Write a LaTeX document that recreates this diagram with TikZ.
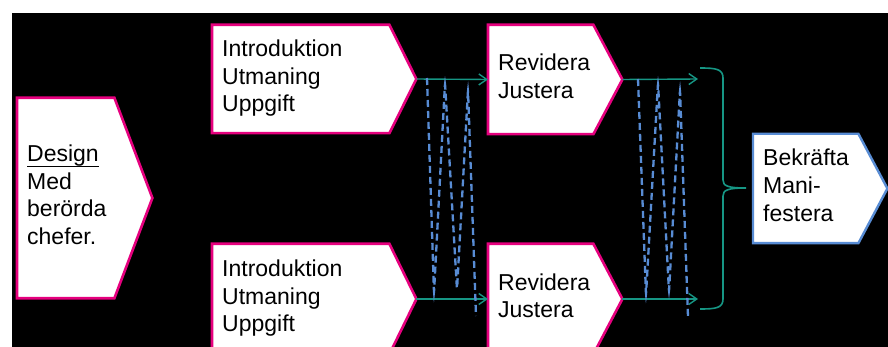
\documentclass[tikz,border=0pt]{standalone}
\usepackage{fontspec}
\setmainfont{Liberation Sans}
\usetikzlibrary{backgrounds,arrows.meta}

\definecolor{rosa}{RGB}{230,0,126}
\definecolor{gronbla}{RGB}{22,150,132}
\definecolor{ljusbla}{RGB}{88,140,212}

\newsavebox\ordbox
\newcommand\understruken[1]{\sbox\ordbox{#1}\rlap{\rule[-5.5pt]{\wd\ordbox}{1.4pt}}\usebox\ordbox}
\newcommand\stod{\rule[-6.6pt]{0pt}{21pt}}

\tikzset{
    txt/.style = {anchor = west, inner xsep = 10pt, inner ysep = 0pt, align = left,
        font = \fontsize{23}{27.6}\selectfont,
        execute at begin node = {\hyphenpenalty=10000\stod}, execute at end node = {\stod}},
    ram/.style = {draw = rosa, line width = 2.6pt, fill = white},
    blaram/.style = {draw = ljusbla, line width = 2.4pt, fill = white},
    pil/.style = {-{Straight Barb[length = 8pt, width = 11pt]}, draw = gronbla, line width = 1.4pt},
    streck/.style = {draw = ljusbla, line width = 2.3pt, dash pattern = on 7pt off 4pt, rounded corners = 3pt}
}

\begin{document}
\begin{tikzpicture}[x = 1pt, y = -1pt]
    \useasboundingbox (0,0) rectangle (888,347);

    \node [txt, text width = 77pt, minimum height = 200pt] (design) at (17,198) {\understruken{Design}\\Med\\berörda\\chefer.};
    \node [txt, text width = 157pt, minimum height = 108pt] (intro1) at (212,79) {Introduktion\\Utmaning\\Uppgift};
    \node [txt, text width = 157pt, minimum height = 110pt] (intro2) at (212,299) {Introduktion\\Utmaning\\Uppgift};
    \node [txt, text width = 85pt, minimum height = 109pt] (rev1) at (488,79.5) {Revidera\\Justera};
    \node [txt, text width = 85pt, minimum height = 110pt] (rev2) at (488,299) {Revidera\\Justera};
    \node [txt, text width = 85pt, minimum height = 109pt] (bek) at (753,188.5) {Bekräfta\\Mani-\\festera};

    \coordinate (design tip) at ([xshift = 38pt]design.east);
    \coordinate (intro1 tip) at ([xshift = 27pt]intro1.east);
    \coordinate (intro2 tip) at ([xshift = 27pt]intro2.east);
    \coordinate (rev1 tip) at ([xshift = 29pt]rev1.east);
    \coordinate (rev2 tip) at ([xshift = 29pt]rev2.east);
    \coordinate (bek tip) at ([xshift = 29pt]bek.east);
    \coordinate (slut1) at (698,79);
    \coordinate (slut2) at (698,299);

    \begin{scope}[on background layer]
        \fill [white] (0,0) rectangle (888,347);
        \fill [black] (12,13) rectangle (888,347);
        \draw [ram] (design.north west) -- (design.north east) -- (design tip) -- (design.south east) -- (design.south west) -- cycle;
        \draw [ram] (intro1.north west) -- (intro1.north east) -- (intro1 tip) -- (intro1.south east) -- (intro1.south west) -- cycle;
        \draw [ram] (intro2.north west) -- (intro2.north east) -- (intro2 tip) -- (intro2.south east) -- (intro2.south west) -- cycle;
        \draw [ram] (rev1.north west) -- (rev1.north east) -- (rev1 tip) -- (rev1.south east) -- (rev1.south west) -- cycle;
        \draw [ram] (rev2.north west) -- (rev2.north east) -- (rev2 tip) -- (rev2.south east) -- (rev2.south west) -- cycle;
        \draw [blaram] (bek.north west) -- (bek.north east) -- (bek tip) -- (bek.south east) -- (bek.south west) -- cycle;
    \end{scope}

    \draw [pil] (intro1 tip) -- (rev1.west);
    \draw [pil] (intro2 tip) -- (rev2.west);
    \draw [pil] (rev1 tip) -- (slut1);
    \draw [pil] (rev2 tip) -- (slut2);

    \draw [streck] (427,78) -- (434,293) -- (445,83) -- (457,290) -- (468,90) -- (476,316);
    \draw [streck] (638,79) -- (646,295) -- (658,83) -- (669,292) -- (680,90) -- (688,317);

    \draw [draw = gronbla, line width = 1.6pt] (700,68) .. controls (716,68) and (723,69) .. (723,78) -- (723,180)
        .. controls (723,186) and (728,188) .. (746,188) .. controls (728,188) and (723,190) .. (723,196)
        -- (723,299) .. controls (723,308) and (716,309) .. (700,309);
\end{tikzpicture}
\end{document}
